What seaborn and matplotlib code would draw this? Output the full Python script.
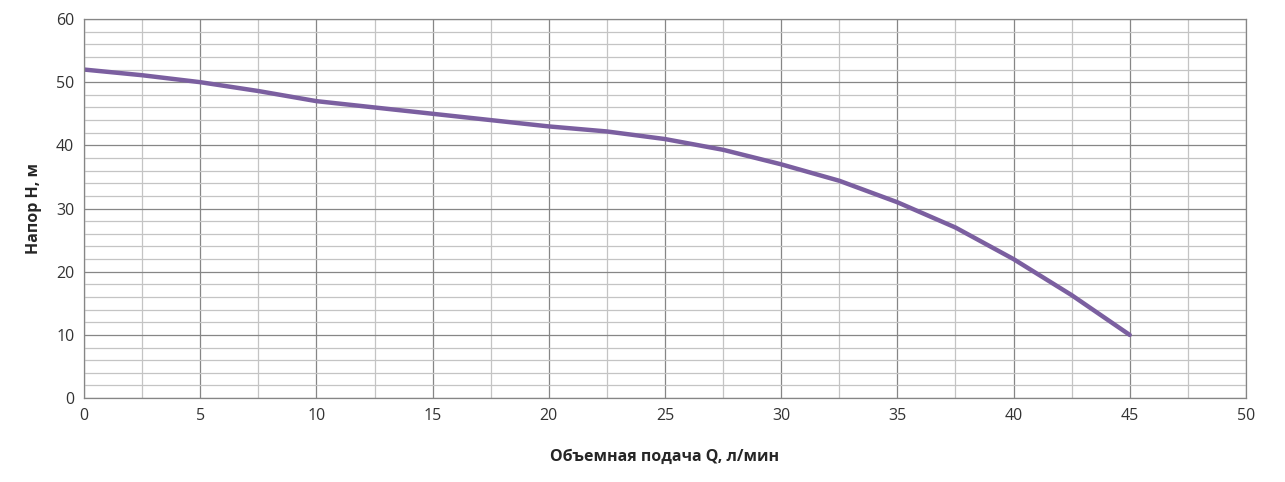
import matplotlib
matplotlib.use("Agg")
import matplotlib.pyplot as plt
import seaborn as sns
import pandas as pd
from matplotlib.ticker import MultipleLocator

q = [0, 2.5, 5, 7.5, 10, 12.5, 15, 17.5, 20, 22.5, 25, 27.5, 30, 32.5, 35, 37.5, 40, 42.5, 45]
h = [52, 51.1, 50, 48.6, 47, 46, 45, 44, 43, 42.2, 41, 39.3, 37, 34.4, 31, 27, 22, 16.3, 10]
df = pd.DataFrame({"Q": q, "H": h})

sns.set_theme(style="white")
plt.rcParams['font.family'] = ['Open Sans', 'DejaVu Sans']
fig = plt.figure(figsize=(12.85, 4.82), dpi=100)
ax = fig.add_axes([0.0654, 0.174, 0.9042, 0.7866])
sns.lineplot(data=df, x="Q", y="H", ax=ax, color="#7B5FA0", linewidth=3.2)
ax.set_xlim(0, 50)
ax.set_ylim(0, 60)
ax.xaxis.set_major_locator(MultipleLocator(5))
ax.xaxis.set_minor_locator(MultipleLocator(2.5))
ax.yaxis.set_major_locator(MultipleLocator(10))
ax.yaxis.set_minor_locator(MultipleLocator(2))
ax.grid(which="major", color="#868686", linewidth=0.9)
ax.grid(which="minor", color="#c4c4c4", linewidth=0.9)
ax.set_axisbelow(True)
for s in ax.spines.values():
    s.set_color("#868686")
    s.set_linewidth(0.9)
ax.tick_params(labelsize=11.5, colors="#333333", length=0, pad=7)
ax.set_xlabel("Объемная подача Q, л/мин", fontsize=11.5, fontweight="bold", labelpad=18)
ax.set_ylabel("Напор Н, м", fontsize=11.5, fontweight="bold", labelpad=10)
fig.savefig("out.png", dpi=100)
